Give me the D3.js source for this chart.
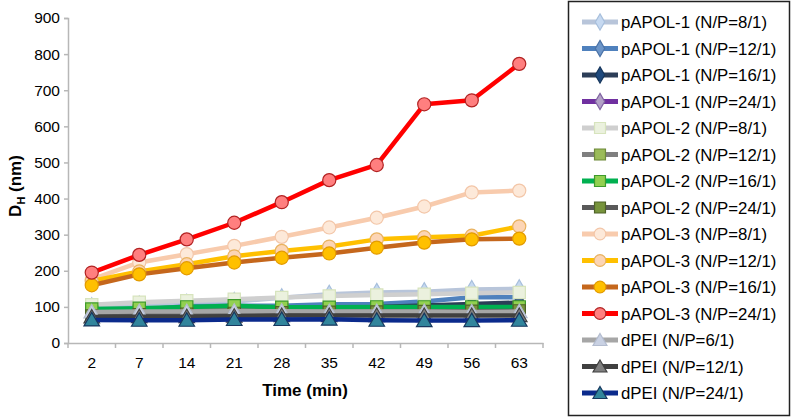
<!DOCTYPE html>
<html><head><meta charset="utf-8">
<script src="https://cdn.jsdelivr.net/npm/d3@7"></script>
<style>body{margin:0;background:#fff;font-family:"Liberation Sans",Arial,sans-serif;}</style>
</head><body>
<svg id="c" width="791" height="417"></svg>
<script>
const categories = ["2","7","14","21","28","35","42","49","56","63"];
const yTicks = [0,100,200,300,400,500,600,700,800,900];
const seriesNames = ["pAPOL-1 (N/P=8/1)","pAPOL-1 (N/P=12/1)","pAPOL-1 (N/P=16/1)","pAPOL-1 (N/P=24/1)",
 "pAPOL-2 (N/P=8/1)","pAPOL-2 (N/P=12/1)","pAPOL-2 (N/P=16/1)","pAPOL-2 (N/P=24/1)",
 "pAPOL-3 (N/P=8/1)","pAPOL-3 (N/P=12/1)","pAPOL-3 (N/P=16/1)","pAPOL-3 (N/P=24/1)",
 "dPEI (N/P=6/1)","dPEI (N/P=12/1)","dPEI (N/P=24/1)"];
const p1_8  = [100,105,110,115,125,135,140,142,148,150];
const p1_12 = [90,92,102,103,103,107,108,115,127,127];
const p1_16 = [85,86,88,90,92,95,100,104,108,112];
const p1_24 = [80,80,82,83,84,85,86,87,88,88];
const p2_8  = [106,113,117,121,126,130,133,135,138,140];
const p2_12 = [85,88,90,92,93,94,94,95,96,97];
const p2_16 = [94,96,100,103,99,99,100,100,100,100];
const p2_24 = [75,78,80,82,84,85,86,87,88,89];
const p3_8  = [176,223,246,269,294,320,347,378,417,422];
const p3_12 = [172,198,218,240,255,267,287,293,297,323];
const p3_16 = [160,190,207,223,236,248,264,278,287,289];
const p3_24 = [195,244,287,333,390,451,493,661,672,773];
const d_6   = [86,87,87,88,88,87,87,87,86,87];
const d_12  = [72,73,73,74,76,76,76,76,76,76];
const d_24  = [64,63,63,65,65,66,63,62,62,63];
const seriesValues = [p1_8,p1_12,p1_16,p1_24,p2_8,p2_12,p2_16,p2_24,p3_8,p3_12,p3_16,p3_24,d_6,d_12,d_24];
const lineColors = ["#b8c5da","#4f81bd","#2c3d57","#7030a0","#cfcfcf","#7f7f7f","#00b050","#595959",
 "#f8cbad","#ffc000","#c5671c","#ff0000","#a6a6a6","#404040","#0b2a8c"];
const markerFill = ["#c6d9f1","#6d96c9","#1f497d","#b3a2c7","#ebf1de","#9bbb59","#92d050","#77933c",
 "#fde9d9","#fcd5b5","#ffc000","#ff7f7f","#c9d1e3","#7f7f7f","#31859c"];
const markerStroke = ["#a7bfdc","#4a72a6","#16365c","#8064a2","#d7e4bd","#6f8a3a","#3e9a2c","#4f6228",
 "#f3c6a8","#e9b25f","#e39b00","#b22222","#b3bccf","#404040","#17375e"];
const markerShape = ["diamond","diamond","diamond","diamond","square","square","square","square",
 "circle","circle","circle","circle","triangle","triangle","triangle"];

const svg = d3.select("#c");
const L=68, R=543, T=18, B=343;
const x = d3.scaleBand().domain(categories).range([L,R]);
const y = d3.scaleLinear().domain([0,900]).range([B,T]);

const yAxis = svg.append("g").attr("transform",`translate(${L},0)`)
  .call(d3.axisLeft(y).tickValues(yTicks).tickSize(4).tickPadding(4));
const xAxis = svg.append("g").attr("transform",`translate(0,${B})`)
  .call(d3.axisBottom(x).tickSize(0).tickPadding(14));
[yAxis,xAxis].forEach(g=>{
  g.select(".domain").attr("stroke","#b7b7b7").attr("stroke-width",1.5);
  g.selectAll(".tick line").attr("stroke","#b7b7b7").attr("stroke-width",1.5);
  g.selectAll("text").attr("font-size",15.5).attr("fill","#000").attr("font-family","Liberation Sans, Arial, sans-serif");
});
const bounds = categories.map(c=>x(c)).concat([R]);
svg.append("g").selectAll("line").data(bounds).join("line")
  .attr("x1",d=>d).attr("x2",d=>d).attr("y1",B).attr("y2",B+5)
  .attr("stroke","#b7b7b7").attr("stroke-width",1.5);

svg.append("text").attr("x",305).attr("y",396).attr("text-anchor","middle")
  .attr("font-weight","bold").attr("font-size",17).text("Time (min)");
const yt = svg.append("text").attr("transform","translate(21,186) rotate(-90)")
  .attr("text-anchor","middle").attr("font-weight","bold").attr("font-size",17);
yt.append("tspan").text("D");
yt.append("tspan").attr("font-size",11).attr("dy",4).text("H");
yt.append("tspan").attr("dy",-4).text(" (nm)");

const sym = {diamond:d3.symbolDiamond, square:d3.symbolSquare, circle:d3.symbolCircle, triangle:d3.symbolTriangle};
const sizes = {diamond:95, square:150, circle:135, triangle:105};
function marker(g, shape, i, cx, cy, scale){
  g.append("path").attr("d", d3.symbol().type(sym[shape]).size(sizes[shape]*(scale||1))())
    .attr("transform",`translate(${cx},${cy + (shape==="triangle"?1.5:0)})`)
    .attr("fill",markerFill[i]).attr("stroke",markerStroke[i]).attr("stroke-width",1.2);
}

const line = d3.line().x((d,j)=>x(categories[j])+x.bandwidth()/2).y(d=>y(d));
seriesValues.forEach((vals,i)=>{
  const g = svg.append("g");
  g.append("path").datum(vals).attr("d",line).attr("fill","none")
    .attr("stroke",lineColors[i]).attr("stroke-width",4.5).attr("stroke-linejoin","round");
  vals.forEach((v,j)=>marker(g, markerShape[i], i, x(categories[j])+x.bandwidth()/2, y(v)));
});

svg.append("rect").attr("x",568.5).attr("y",1.5).attr("width",221).attr("height",414)
  .attr("fill","#fff").attr("stroke","#222").attr("stroke-width",1.5);
seriesNames.forEach((n,i)=>{
  const ly = 22 + i*26.5;
  const g = svg.append("g");
  g.append("line").attr("x1",582).attr("x2",618).attr("y1",ly).attr("y2",ly)
    .attr("stroke",lineColors[i]).attr("stroke-width",5);
  marker(g, markerShape[i], i, 600, ly, 0.8);
  g.append("text").attr("x",621).attr("y",ly+6).attr("font-size",16.8).attr("fill","#000").text(n);
});
</script>
</body></html>
